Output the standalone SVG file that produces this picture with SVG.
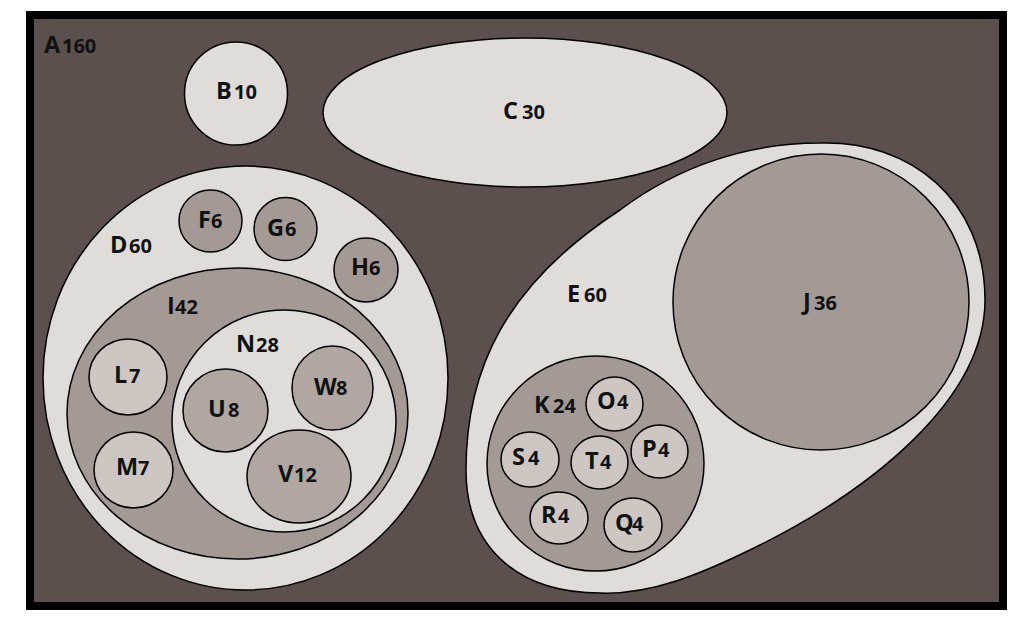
<svg xmlns="http://www.w3.org/2000/svg" width="1025" height="632" viewBox="0 0 1025 632">
<style>
.s{stroke:#000;stroke-width:1.5}
.bg{fill:#5b504e}
.l1{fill:#e0dcda}
.m1{fill:#a39a96}
.m2{fill:#b0a7a3}
.l2{fill:#cdc6c3}
text{font-family:"Open Sans","DejaVu Sans",sans-serif;fill:#111}
.k{font-size:23.5px;font-weight:700}
.n{font-size:20px;font-weight:700}
</style>
<rect width="1025" height="632" fill="#ffffff"/>
<g id="A">
<rect x="26" y="11" width="981" height="599" fill="#000"/>
<rect x="34" y="19" width="965" height="583" class="bg"/>
<text y="53"><tspan class="k" x="44">A</tspan><tspan class="n" x="62">160</tspan></text>
</g>
<g id="B">
<circle cx="236" cy="93.5" r="51.5" class="s l1"/>
<text y="99"><tspan class="k" x="216">B</tspan><tspan class="n" x="234">10</tspan></text>
</g>
<g id="C">
<ellipse cx="525" cy="112.5" rx="202" ry="74.5" class="s l1"/>
<text y="119"><tspan class="k" x="503">C</tspan><tspan class="n" x="522">30</tspan></text>
</g>
<g id="D">
<ellipse cx="245.5" cy="378" rx="202.5" ry="212" class="s l1"/>
<text y="253"><tspan class="k" x="110">D</tspan><tspan class="n" x="129">60</tspan></text>
</g>
<g id="F">
<ellipse cx="210.5" cy="221" rx="31.5" ry="31" class="s m1"/>
<text y="228"><tspan class="k" x="198">F</tspan><tspan class="n" x="211">6</tspan></text>
</g>
<g id="G">
<circle cx="285.5" cy="229" r="31.5" class="s m1"/>
<text y="236"><tspan class="k" x="267">G</tspan><tspan class="n" x="285">6</tspan></text>
</g>
<g id="H">
<circle cx="366" cy="270" r="32" class="s m1"/>
<text y="275"><tspan class="k" x="351">H</tspan><tspan class="n" x="369">6</tspan></text>
</g>
<g id="I">
<ellipse cx="237.5" cy="413.5" rx="170.5" ry="145.5" class="s m1"/>
<text y="314"><tspan class="k" x="167">I</tspan><tspan class="n" x="175">42</tspan></text>
</g>
<g id="L">
<ellipse cx="128" cy="377" rx="39" ry="38" class="s l2"/>
<text y="383"><tspan class="k" x="114">L</tspan><tspan class="n" x="129">7</tspan></text>
</g>
<g id="M">
<ellipse cx="133.5" cy="470" rx="39.5" ry="38" class="s l2"/>
<text y="475"><tspan class="k" x="116">M</tspan><tspan class="n" x="138">7</tspan></text>
</g>
<g id="N">
<ellipse cx="284" cy="421" rx="112" ry="111" class="s l1"/>
<text y="352"><tspan class="k" x="236">N</tspan><tspan class="n" x="256">28</tspan></text>
</g>
<g id="U">
<ellipse cx="225.5" cy="410.5" rx="42.5" ry="41.5" class="s m2"/>
<text y="417"><tspan class="k" x="208">U</tspan><tspan class="n" x="228">8</tspan></text>
</g>
<g id="W">
<ellipse cx="332.5" cy="388" rx="40.5" ry="42" class="s m2"/>
<text y="395"><tspan class="k" x="314">W</tspan><tspan class="n" x="336">8</tspan></text>
</g>
<g id="V">
<ellipse cx="299" cy="476.5" rx="52" ry="46.5" class="s m2"/>
<text y="482"><tspan class="k" x="278">V</tspan><tspan class="n" x="294">12</tspan></text>
</g>
<g id="E">
<path d="M820,143 C910,140 985,200 985,300 C985,400 870,490 760,545 C700,575 650,595 600,593 C515,593 466,545 466,470 C466,370 505,285 620,210 C680,165 750,143 820,143 Z" class="s l1"/>
<text y="302"><tspan class="k" x="567">E</tspan><tspan class="n" x="584">60</tspan></text>
</g>
<g id="J">
<circle cx="821" cy="302" r="148" class="s m1"/>
<text y="310"><tspan class="k" x="803">J</tspan><tspan class="n" x="814">36</tspan></text>
</g>
<g id="K">
<ellipse cx="595.5" cy="463.5" rx="108.5" ry="107.5" class="s m1"/>
<text y="413"><tspan class="k" x="534">K</tspan><tspan class="n" x="553">24</tspan></text>
</g>
<g id="O">
<ellipse cx="614.5" cy="404" rx="28.5" ry="27" class="s l2"/>
<text y="409"><tspan class="k" x="597">O</tspan><tspan class="n" x="617">4</tspan></text>
</g>
<g id="S">
<ellipse cx="530" cy="459.5" rx="29" ry="27.5" class="s l2"/>
<text y="465"><tspan class="k" x="512">S</tspan><tspan class="n" x="528">4</tspan></text>
</g>
<g id="T">
<ellipse cx="599.5" cy="462.5" rx="28.5" ry="26.5" class="s l2"/>
<text y="469"><tspan class="k" x="585">T</tspan><tspan class="n" x="600">4</tspan></text>
</g>
<g id="P">
<ellipse cx="659.5" cy="451.5" rx="28.5" ry="26.5" class="s l2"/>
<text y="457"><tspan class="k" x="642">P</tspan><tspan class="n" x="658">4</tspan></text>
</g>
<g id="R">
<ellipse cx="559" cy="518" rx="29" ry="26" class="s l2"/>
<text y="523"><tspan class="k" x="541">R</tspan><tspan class="n" x="558">4</tspan></text>
</g>
<g id="Q">
<ellipse cx="633" cy="525" rx="29" ry="27" class="s l2"/>
<text y="531"><tspan class="k" x="615">Q</tspan><tspan class="n" x="632">4</tspan></text>
</g>
<g id="connectors"></g>
</svg>
